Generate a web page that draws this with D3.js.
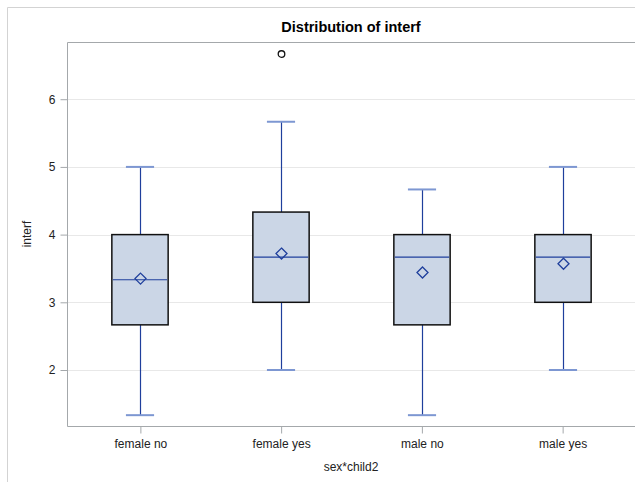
<!DOCTYPE html>
<html>
<head>
<meta charset="utf-8">
<script src="https://cdn.jsdelivr.net/npm/d3@7"></script>
<style>
  body { margin: 0; background: #fff; }
  text { font-family: "Liberation Sans", Arial, sans-serif; }
</style>
</head>
<body>
<div id="chart"></div>
<script>
// Groups and their box statistics
var categories = ["female no", "female yes", "male no", "male yes"];
var mins     = [1.333, 2.0,   1.333, 2.0];
var q1s      = [2.667, 3.0,   2.667, 3.0];
var medians  = [3.333, 3.667, 3.667, 3.667];
var q3s      = [4.0,   4.333, 4.0,   4.0];
var maxs     = [5.0,   5.667, 4.667, 5.0];
var means    = [3.35,  3.72,  3.44,  3.57];
var outliers = [[], [6.667], [], []];
var yTicks   = [2, 3, 4, 5, 6];

var W = 635, H = 482;
var plot = { left: 67, top: 42, right: 635, bottom: 426 };

var svg = d3.select("#chart").append("svg")
  .attr("width", W)
  .attr("height", H);

// outer frame
svg.append("path")
  .attr("d", "M7.5," + H + "V7.5H" + W)
  .attr("fill", "none")
  .attr("stroke", "#d3d3d3");

var x = d3.scalePoint().domain(categories).range([70, 633]).padding(0.5);
var y = d3.scaleLinear().domain([1.173, 6.845]).range([plot.bottom, plot.top]);
var step = x.step();
var boxW = step * 0.4;
var capW = boxW / 2;

// gridlines
svg.append("g").selectAll("line")
  .data(yTicks).enter().append("line")
  .attr("x1", plot.left).attr("x2", plot.right)
  .attr("y1", function(d) { return Math.round(y(d)) + 0.5; })
  .attr("y2", function(d) { return Math.round(y(d)) + 0.5; })
  .attr("stroke", "#e8e8e8");

// axes
var yAxis = svg.append("g")
  .attr("transform", "translate(" + (plot.left + 0.5) + ",0)")
  .call(d3.axisLeft(y).tickValues(yTicks).tickSize(7).tickPadding(5).tickFormat(d3.format("d")));
var xAxis = svg.append("g")
  .attr("transform", "translate(0," + (plot.bottom + 0.5) + ")")
  .call(d3.axisBottom(x).tickSize(7).tickPadding(6));
[yAxis, xAxis].forEach(function(a) {
  a.select(".domain").remove();
  a.selectAll(".tick line").attr("stroke", "#a4a8ab");
  a.selectAll(".tick text").attr("fill", "#222").style("font-size", "12px")
    .style("font-family", "'Liberation Sans', Arial, sans-serif");
});

// plot frame (left, top, bottom)
svg.append("path")
  .attr("d", "M" + plot.right + "," + (plot.top + 0.5) + "H" + (plot.left + 0.5) +
    "V" + (plot.bottom + 0.5) + "H" + plot.right)
  .attr("fill", "none")
  .attr("stroke", "#a4a8ab");

// boxes
var groups = categories.map(function(c, i) {
  return { cat: c, min: mins[i], q1: q1s[i], med: medians[i], q3: q3s[i], max: maxs[i], mean: means[i], out: outliers[i] };
});

var g = svg.append("g").selectAll("g")
  .data(groups).enter().append("g")
  .attr("transform", function(d) { return "translate(" + Math.round(x(d.cat)) + ",0)"; });

// whiskers
g.append("line")
  .attr("x1", 0.5).attr("x2", 0.5)
  .attr("y1", function(d) { return y(d.max); })
  .attr("y2", function(d) { return y(d.q3); })
  .attr("stroke", "#1f3f9c").attr("stroke-width", 1.2);
g.append("line")
  .attr("x1", 0.5).attr("x2", 0.5)
  .attr("y1", function(d) { return y(d.q1); })
  .attr("y2", function(d) { return y(d.min); })
  .attr("stroke", "#1f3f9c").attr("stroke-width", 1.2);
// caps
g.selectAll(".cap")
  .data(function(d) { return [d.min, d.max]; })
  .enter().append("line")
  .attr("class", "cap")
  .attr("x1", -capW / 2).attr("x2", capW / 2)
  .attr("y1", function(v) { return y(v); })
  .attr("y2", function(v) { return y(v); })
  .attr("stroke", "#7d97d2").attr("stroke-width", 2);

// box body
g.append("rect")
  .attr("x", -boxW / 2)
  .attr("width", boxW)
  .attr("y", function(d) { return y(d.q3); })
  .attr("height", function(d) { return y(d.q1) - y(d.q3); })
  .attr("fill", "#cbd6e6")
  .attr("stroke", "#111")
  .attr("stroke-width", 1.5);

// median
g.append("line")
  .attr("x1", -boxW / 2 + 1).attr("x2", boxW / 2 - 1)
  .attr("y1", function(d) { return y(d.med); })
  .attr("y2", function(d) { return y(d.med); })
  .attr("stroke", "#1f3f9c").attr("stroke-width", 1.2);

// mean diamond
g.append("path")
  .attr("d", "M0,-5.5L5.5,0L0,5.5L-5.5,0Z")
  .attr("transform", function(d) { return "translate(0.5," + y(d.mean) + ")"; })
  .attr("fill", "none")
  .attr("stroke", "#1f3f9c")
  .attr("stroke-width", 1.3);

// outliers
g.selectAll(".outlier")
  .data(function(d) { return d.out; })
  .enter().append("circle")
  .attr("class", "outlier")
  .attr("cx", 0.5)
  .attr("cy", function(v) { return y(v); })
  .attr("r", 3.3)
  .attr("fill", "none")
  .attr("stroke", "#111")
  .attr("stroke-width", 1.3);

// title and axis labels
svg.append("text")
  .attr("x", (plot.left + plot.right) / 2)
  .attr("y", 32)
  .attr("text-anchor", "middle")
  .style("font-size", "14.5px")
  .style("font-weight", "bold")
  .text("Distribution of interf");

svg.append("text")
  .attr("x", (plot.left + plot.right) / 2)
  .attr("y", 471)
  .attr("text-anchor", "middle")
  .attr("fill", "#222")
  .style("font-size", "12px")
  .text("sex*child2");

svg.append("text")
  .attr("transform", "translate(31," + ((plot.top + plot.bottom) / 2) + ") rotate(-90)")
  .attr("text-anchor", "middle")
  .attr("fill", "#222")
  .style("font-size", "12px")
  .text("interf");
</script>
</body>
</html>
